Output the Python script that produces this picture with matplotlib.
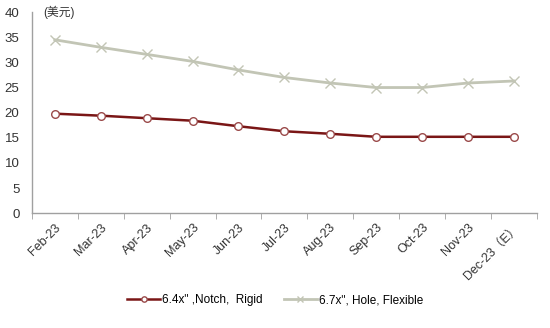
import matplotlib
matplotlib.use("Agg")
import matplotlib.pyplot as plt

plt.rcParams['font.family'] = ['Liberation Sans', 'Noto Sans CJK SC', 'DejaVu Sans']

categories = ["Feb-23", "Mar-23", "Apr-23", "May-23", "Jun-23", "Jul-23",
              "Aug-23", "Sep-23", "Oct-23", "Nov-23", "Dec-23（E）"]
notch_rigid = [19.8, 19.4, 18.9, 18.4, 17.3, 16.3, 15.8, 15.2, 15.2, 15.2, 15.2]
hole_flexible = [34.5, 33.0, 31.6, 30.2, 28.5, 27.0, 25.9, 25.0, 25.0, 25.9, 26.3]
series_names = ["6.4x\" ,Notch,  Rigid", "6.7x\", Hole, Flexible"]
yticks = [0, 5, 10, 15, 20, 25, 30, 35, 40]

fig = plt.figure(figsize=(5.5, 3.28), dpi=100)
ax = fig.add_axes([0.058, 0.350, 0.918, 0.613])

x = list(range(len(categories)))
red = "#7a1616"
gray = "#c2c5b5"
ax.plot(x, notch_rigid, color=red, lw=1.8, marker='o', ms=5.5,
        mfc='white', mec='#9a4a4a', mew=1.0, label=series_names[0], zorder=3)
ax.plot(x, hole_flexible, color=gray, lw=2.0, marker='x', ms=7,
        mec=gray, mew=1.0, label=series_names[1], zorder=2)

ax.set_xlim(-0.5, len(categories) - 0.5)
ax.set_ylim(0, 40)
ax.set_yticks(yticks)
ax.tick_params(axis='y', length=0, labelsize=9.5, colors='#333333', pad=9)
ax.set_xticks(x)
ax.set_xticklabels(categories, rotation=45, ha='right', rotation_mode='anchor',
                   fontsize=9, color='#333333')
ax.tick_params(axis='x', which='major', length=0, pad=6)
ax.set_xticks([i - 0.5 for i in range(len(categories) + 1)], minor=True)
ax.tick_params(axis='x', which='minor', length=4, direction='out', color='#a0a0a0')

for s in ['top', 'right']:
    ax.spines[s].set_visible(False)
for s in ['left', 'bottom']:
    ax.spines[s].set_color('#a0a0a0')
    ax.spines[s].set_linewidth(1.0)

fig.text(0.078, 0.963, "(美元)", fontsize=8.5, color='#333333', va='center', ha='left')

fig.legend(loc='center', bbox_to_anchor=(0.5, 0.085), ncol=2, frameon=False,
           fontsize=8.5, handlelength=2.8, columnspacing=1.8, handletextpad=0.15,
           markerscale=0.7)

fig.savefig("out.png", dpi=100)
